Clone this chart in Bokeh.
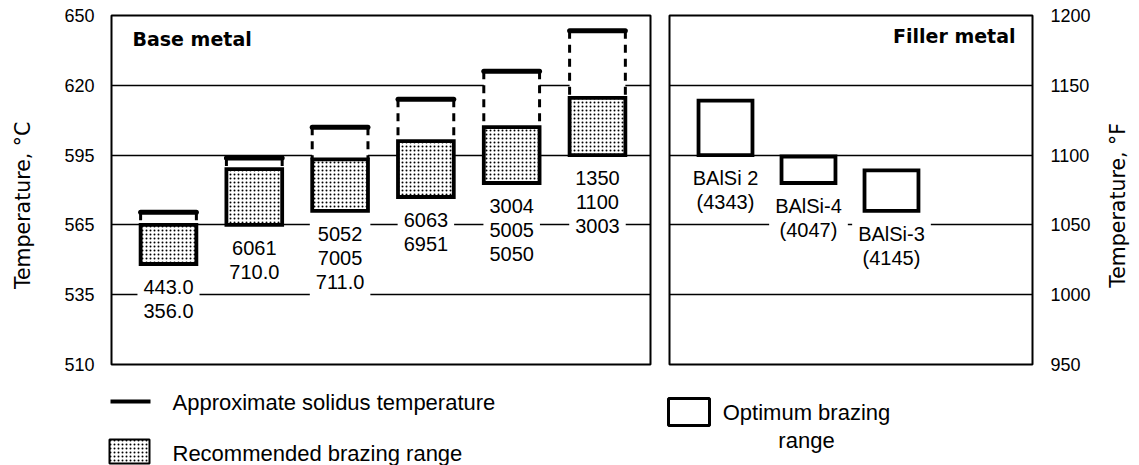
import numpy as np
from bokeh.plotting import figure
from bokeh.models import Range1d, FixedTicker, Label
from bokeh.layouts import row, column
from bokeh.core.properties import value
from bokeh.embed import file_html
from bokeh.resources import INLINE

# ---------------- data ----------------
base_alloys = ["443.0\n356.0", "6061\n710.0", "5052\n7005\n711.0",
               "6063\n6951", "3004\n5005\n5050", "1350\n1100\n3003"]
solidus_f = [1059, 1098, 1120, 1140, 1160, 1189]
brazing_low_f = [1022, 1050, 1060, 1070, 1080, 1100]
brazing_high_f = [1050, 1090, 1097, 1110, 1120, 1141]

filler_alloys = ["BAlSi 2\n(4343)", "BAlSi-4\n(4047)", "BAlSi-3\n(4145)"]
optimum_low_f = [1100, 1080, 1060]
optimum_high_f = [1139, 1099, 1089]

tick_f = [950, 1000, 1050, 1100, 1150, 1200]
tick_c = ["510", "535", "565", "595", "620", "650"]
tick_f_labels = ["950", "1000", "1050", "1100", "1150", "1200"]

# ---------------- styling helpers ----------------
LBL_FONT = "Liberation Sans"
TITLE_FONT = "DejaVu Sans"
H_MAIN = 390
B_TOP, B_BOT = 15, 26


def style_panel(p):
    p.outline_line_color = "black"
    p.outline_line_width = 2
    p.xgrid.visible = False
    p.ygrid.ticker = FixedTicker(ticks=tick_f)
    p.ygrid.grid_line_color = "black"
    p.ygrid.grid_line_width = 1.7
    p.background_fill_color = "white"
    p.border_fill_color = "white"


def style_axis(ax, labels):
    ax.ticker = FixedTicker(ticks=tick_f)
    ax.major_label_overrides = {f: l for f, l in zip(tick_f, labels)}
    ax.axis_line_color = None
    ax.major_tick_line_color = None
    ax.minor_tick_line_color = None
    ax.major_label_text_font = LBL_FONT
    ax.major_label_text_font_size = "18px"
    ax.major_label_text_color = "black"
    ax.major_label_standoff = 11


def title_strip(width, x, text):
    t = figure(width=width, height=H_MAIN, x_range=Range1d(0, width),
               y_range=Range1d(950, 1200), x_axis_type=None, y_axis_type=None,
               min_border_left=0, min_border_right=0, min_border_top=B_TOP,
               min_border_bottom=B_BOT, toolbar_location=None, output_backend="svg")
    t.outline_line_color = None
    t.grid.visible = False
    t.text(x=[x], y=[1064], text=[text], angle=np.pi / 2, text_align="center",
           text_baseline="middle", text_font=value(TITLE_FONT),
           text_font_size="20.5px", text_color="black")
    return t


# ---------------- left axis title ----------------
tl = title_strip(44, 22, "Temperature, \u00b0C")

# ---------------- left panel : base metal ----------------
xb = np.arange(1, len(base_alloys) + 1, dtype=float)
bw = 0.65
p1 = figure(width=616, height=H_MAIN, x_range=Range1d(0.3357, 6.618),
            y_range=Range1d(950, 1200), x_axis_type=None,
            min_border_left=67, min_border_right=10, min_border_top=B_TOP,
            min_border_bottom=B_BOT, toolbar_location=None, output_backend="svg")
style_panel(p1)
style_axis(p1.yaxis[0], tick_c)

# white area between recommended range top and solidus
p1.quad(left=xb - bw / 2, right=xb + bw / 2, bottom=brazing_high_f, top=solidus_f,
        fill_color="white", line_color=None)
# recommended brazing range (stippled)
p1.quad(left=xb - bw / 2, right=xb + bw / 2, bottom=brazing_low_f, top=brazing_high_f,
        fill_color="white", hatch_pattern="dot", hatch_color="black",
        hatch_scale=4, hatch_weight=1.1, line_color="black", line_width=3.8,
        line_join="miter")
# dashed sides up to the solidus
sx = np.concatenate([xb - bw / 2, xb + bw / 2])
p1.segment(x0=sx, x1=sx, y0=solidus_f * 2, y1=brazing_high_f * 2,
           line_color="black", line_width=3, line_dash="8 6")
# solidus bar
p1.segment(x0=xb - bw / 2, x1=xb + bw / 2, y0=solidus_f, y1=solidus_f,
           line_color="black", line_width=5, line_cap="round")
# alloy labels
p1.text(x=xb, y=brazing_low_f, text=base_alloys, text_align="center",
        text_baseline="top", y_offset=6, text_font=value(LBL_FONT),
        text_font_size="20px", text_color="black", text_line_height=1.1,
        background_fill_color="white", padding=6)

p1.add_layout(Label(x=0.5805, y=1183.5, text="Base metal", text_align="left",
                    text_baseline="middle", text_font=TITLE_FONT,
                    text_font_size="19px", text_font_style="bold",
                    text_color="black"))

# ---------------- right panel : filler metal ----------------
xf = np.arange(1, len(filler_alloys) + 1, dtype=float)
fw = 0.65
p2 = figure(width=440, height=H_MAIN, x_range=Range1d(0.3253, 4.699),
            y_range=Range1d(950, 1200), x_axis_type=None, y_axis_location="right",
            min_border_left=9, min_border_right=68, min_border_top=B_TOP,
            min_border_bottom=B_BOT, toolbar_location=None, output_backend="svg")
style_panel(p2)
style_axis(p2.yaxis[0], tick_f_labels)
p2.yaxis[0].major_label_standoff = 12

p2.quad(left=xf - fw / 2, right=xf + fw / 2, bottom=optimum_low_f, top=optimum_high_f,
        fill_color="white", line_color="black", line_width=3.8, line_join="miter")
p2.text(x=xf, y=optimum_low_f, text=filler_alloys, text_align="center",
        text_baseline="top", y_offset=6, text_font=value(LBL_FONT),
        text_font_size="20px", text_color="black", text_line_height=1.1,
        background_fill_color="white", padding=6)

p2.add_layout(Label(x=4.494, y=1185.5, text="Filler metal", text_align="right",
                    text_baseline="middle", text_font=TITLE_FONT,
                    text_font_size="19px", text_font_style="bold",
                    text_color="black"))

# ---------------- right axis title ----------------
tr = title_strip(39, 17, "Temperature, \u00b0F")

# ---------------- legend strip ----------------
LH = 75
leg = figure(width=1139, height=LH, x_range=Range1d(0, 1139), y_range=Range1d(LH, 0),
             x_axis_type=None, y_axis_type=None, min_border_left=0,
             min_border_right=0, min_border_top=0, min_border_bottom=0,
             toolbar_location=None, output_backend="svg")
leg.outline_line_color = None
leg.grid.visible = False

leg.segment(x0=[110], x1=[150], y0=[11], y1=[11], line_color="black", line_width=4)
leg.text(x=[172], y=[12], text=["Approximate solidus temperature"],
         text_baseline="middle", text_font=value(LBL_FONT), text_font_size="22px",
         text_color="black")
leg.quad(left=[109], right=[149], top=[49], bottom=[73], fill_color="white",
         hatch_pattern="dot", hatch_color="black", hatch_scale=4, hatch_weight=1.1,
         line_color="black", line_width=2)
leg.text(x=[172], y=[63], text=["Recommended brazing range"],
         text_baseline="middle", text_font=value(LBL_FONT), text_font_size="22px",
         text_color="black")
leg.quad(left=[668], right=[709], top=[8], bottom=[35], fill_color="white",
         line_color="black", line_width=3)
leg.text(x=[806], y=[36], text=["Optimum brazing\nrange"], text_align="center",
         text_baseline="middle", text_font=value(LBL_FONT), text_font_size="22px",
         text_color="black", text_line_height=1.1)

layout = column(row(tl, p1, p2, tr), leg)
open("out.html", "w").write(file_html(layout, INLINE))
